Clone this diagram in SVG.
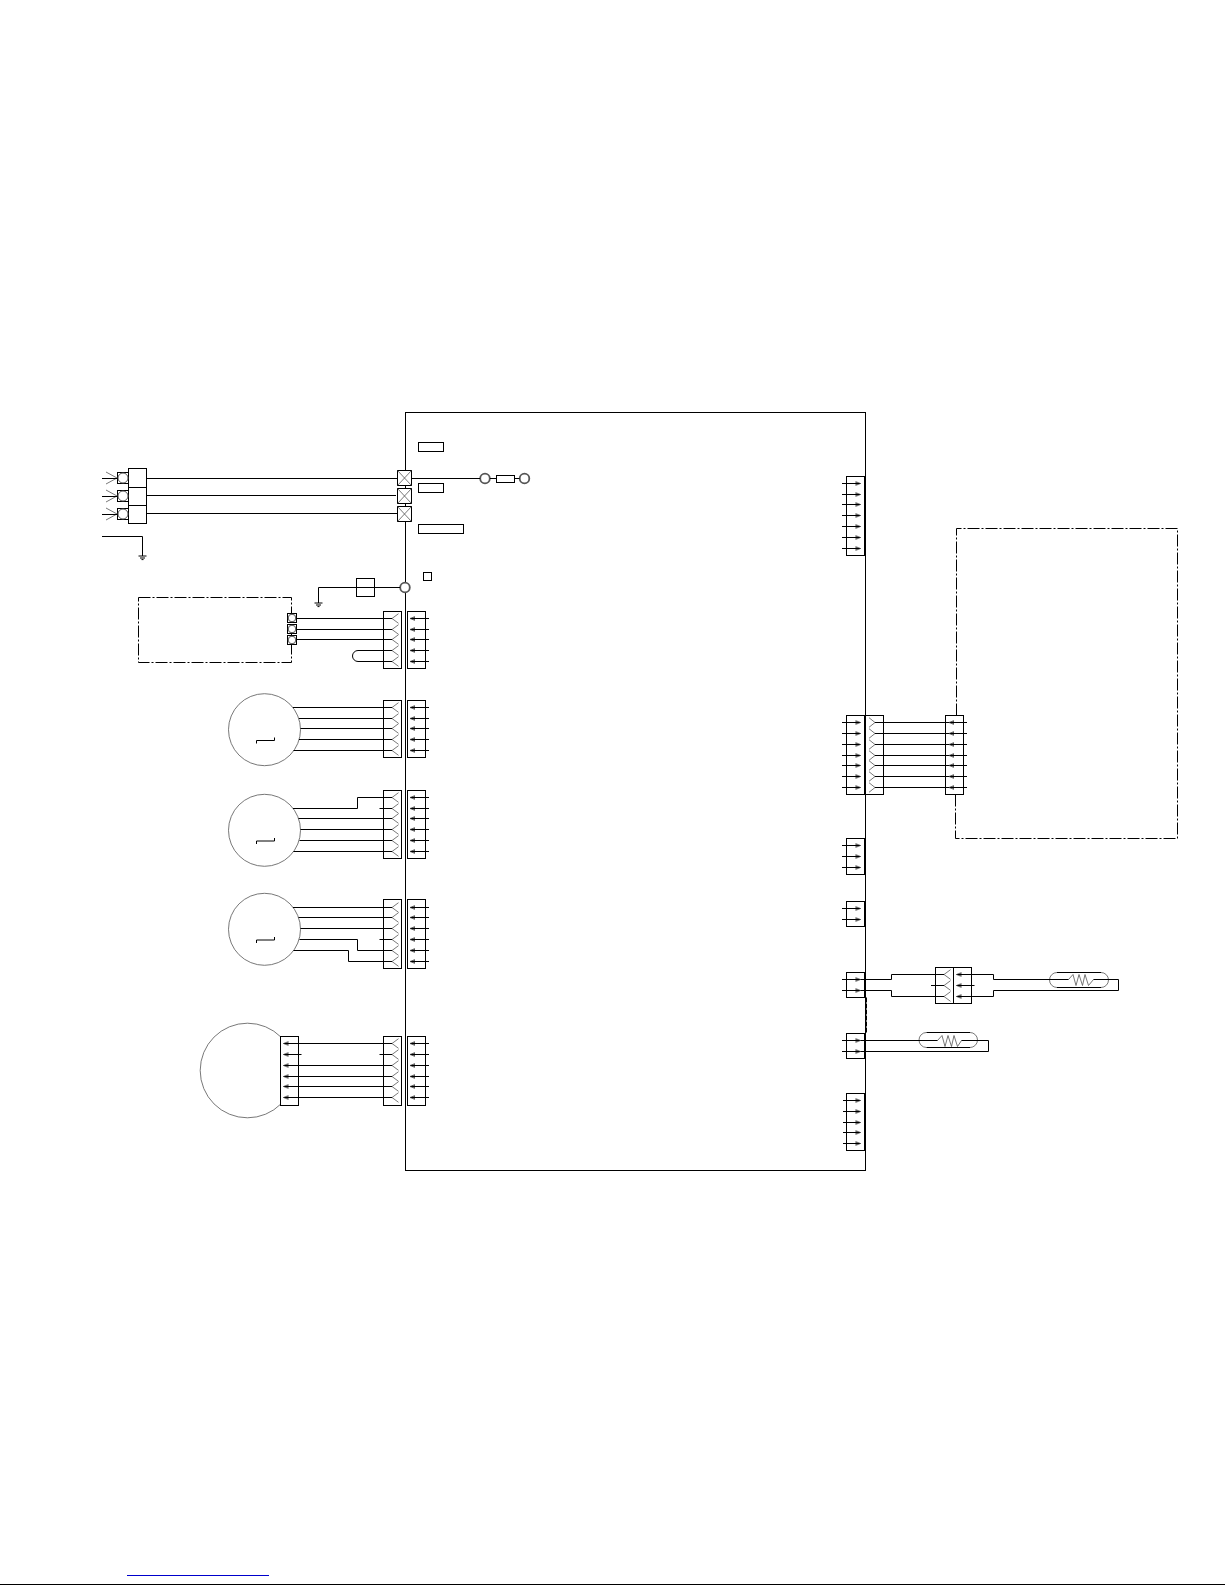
<svg xmlns="http://www.w3.org/2000/svg" xmlns:xlink="http://www.w3.org/1999/xlink" width="1225" height="1585" viewBox="0 0 1225 1585">
<style>
.b{fill:none;stroke:#000;stroke-width:1}
.w{fill:#fff;stroke:#000;stroke-width:1}
.t{fill:none;stroke:#555;stroke-width:.8}
.r{fill:#fff;stroke:#555;stroke-width:1.8}
.c{fill:#fff;stroke:#555;stroke-width:.8}
.s{fill:#fff;stroke:#555;stroke-width:1}
.d{fill:none;stroke:#000;stroke-width:1;stroke-dasharray:12 2 2 2}
</style>
<defs>
<path id="chevL" class="t" d="M6.500,-4.800L0,0L6.500,4.800"/>
<path id="chevR" class="t" d="M-6,-4.800L0,0L-6,4.800"/>
<g id="arrL"><path class="t" d="M5,-2L0,0L5,2"/><path d="M0,0L5,-1.200V1.200Z" fill="#000"/></g>
<g id="arrR"><path class="t" d="M-5,-2L0,0L-5,2"/><path d="M0,0L-5,-1.200V1.200Z" fill="#000"/></g>
<g id="ground"><path class="b" d="M-4,0H4"/><path class="b" d="M-2.500,2H2.500"/><path class="b" d="M-1,3.600H1"/></g>
<path id="step" class="b" d="M0,6V3H18V0"/>
</defs>
<rect width="1225" height="1585" fill="#fff"/>

<g id="board"><rect class="b" x="405.500" y="412.500" width="460" height="758"/>
<rect class="b" x="418.500" y="442.500" width="25" height="9"/>
<rect class="b" x="418.500" y="483.500" width="25" height="9"/>
<rect class="b" x="418.500" y="524.500" width="45" height="9"/>
<rect class="b" x="423.500" y="572.500" width="8" height="8"/>
</g>

<g id="power-terminal">
<rect class="w" x="128.500" y="468.500" width="18" height="19"/>
<rect class="w" x="128.500" y="487.500" width="18" height="18"/>
<rect class="w" x="128.500" y="505.500" width="18" height="18"/>
<rect class="w" x="117.500" y="472.500" width="11" height="11"/>
<rect class="w" x="117.500" y="490.500" width="11" height="11"/>
<rect class="w" x="117.500" y="508.500" width="11" height="11"/>
<circle class="s" cx="123" cy="478" r="5"/><circle class="s" cx="123" cy="496" r="5"/><circle class="s" cx="123" cy="514" r="5"/>
<path class="t" d="M106,472L117,478L106,484M106,490L117,496L106,502M106,508L117,514L106,520"/>
</g>
<g id="ground-1"><use href="#ground" x="142.500" y="556"/></g>
<g id="ground-2"><use href="#ground" x="318.500" y="603"/><rect class="w" x="356.500" y="578.500" width="18" height="18"/></g>

<g id="x-terminals">
<g id="x1"><rect class="w" x="397.500" y="470.500" width="14" height="15"/><path class="t" d="M397.500,470.500L411.500,485.500M411.500,470.500L397.500,485.500"/></g>
<g id="x2"><rect class="w" x="397.500" y="488.500" width="14" height="15"/><path class="t" d="M397.500,488.500L411.500,503.500M411.500,488.500L397.500,503.500"/></g>
<g id="x3"><rect class="w" x="397.500" y="506.500" width="14" height="15"/><path class="t" d="M397.500,506.500L411.500,521.500M411.500,506.500L397.500,521.500"/></g>
</g>
<g id="fuse"><circle class="r" cx="485" cy="478.500" r="4.800"/><rect class="w" x="496.500" y="475.500" width="18" height="7"/><circle class="r" cx="524.500" cy="478.500" r="4.800"/></g>
<g id="ring-terminal"><circle class="r" cx="405" cy="587.500" r="4.800"/></g>

<g id="unit-box"><rect class="d" x="138.500" y="597.500" width="153" height="65"/>
<rect class="w" x="287.500" y="613.500" width="9" height="9"/><rect class="w" x="287.500" y="624.500" width="9" height="9"/><rect class="w" x="287.500" y="635.500" width="9" height="9"/>
<circle class="s" cx="292" cy="618" r="3.800"/><circle class="s" cx="292" cy="629" r="3.800"/><circle class="s" cx="292" cy="640" r="3.800"/>
</g>

<g id="conn-a"><rect class="w" x="383.500" y="611.500" width="18" height="57"/><rect class="w" x="407.500" y="611.500" width="18" height="57"/>
<use href="#chevL" x="392" y="618.500"/><use href="#chevL" x="392" y="629.500"/><use href="#chevL" x="392" y="639.500"/><use href="#chevL" x="392" y="650.500"/><use href="#chevL" x="392" y="661.500"/></g>

<g id="motor-1"><circle class="c" cx="264.500" cy="729.700" r="36"/><use href="#step" x="256.500" y="737.500"/>
<rect class="w" x="383.500" y="700.500" width="18" height="57"/><rect class="w" x="407.500" y="700.500" width="18" height="57"/>
<use href="#chevL" x="392" y="707.500"/><use href="#chevL" x="392" y="718.500"/><use href="#chevL" x="392" y="728.500"/><use href="#chevL" x="392" y="739.500"/><use href="#chevL" x="392" y="750.500"/></g>

<g id="motor-2"><circle class="c" cx="264.500" cy="830.300" r="36"/><use href="#step" x="256.500" y="838"/>
<rect class="w" x="383.500" y="790.500" width="18" height="68"/><rect class="w" x="407.500" y="790.500" width="18" height="68"/>
<use href="#chevL" x="392" y="797.500"/><use href="#chevL" x="392" y="808.500"/><use href="#chevL" x="392" y="818.500"/><use href="#chevL" x="392" y="829.500"/><use href="#chevL" x="392" y="840.500"/><use href="#chevL" x="392" y="851.500"/></g>

<g id="motor-3"><circle class="c" cx="264.500" cy="929.300" r="36"/><use href="#step" x="256.500" y="937"/>
<rect class="w" x="383.500" y="899.500" width="18" height="69"/><rect class="w" x="407.500" y="899.500" width="18" height="69"/>
<use href="#chevL" x="392" y="907.500"/><use href="#chevL" x="392" y="917.500"/><use href="#chevL" x="392" y="928.500"/><use href="#chevL" x="392" y="939.500"/><use href="#chevL" x="392" y="950.500"/><use href="#chevL" x="392" y="961.500"/></g>

<g id="compressor"><circle class="c" cx="247.500" cy="1070.500" r="47.300"/>
<rect class="w" x="280.500" y="1036.500" width="18" height="69"/>
<rect class="w" x="383.500" y="1036.500" width="18" height="69"/><rect class="w" x="407.500" y="1036.500" width="18" height="69"/>
<use href="#chevL" x="392" y="1043.500"/><use href="#chevL" x="392" y="1054.500"/><use href="#chevL" x="392" y="1065.500"/><use href="#chevL" x="392" y="1076.500"/><use href="#chevL" x="392" y="1086.500"/><use href="#chevL" x="392" y="1097.500"/></g>

<g id="outdoor-box"><path class="d" d="M956.500,715.500V528.500H1177.500V838.500H955.500V794.500"/></g>

<g id="right-connectors">
<rect class="w" x="846.500" y="476.500" width="18" height="79"/>
<rect class="w" x="846.500" y="715.500" width="18" height="79"/>
<rect class="w" x="865.500" y="715.500" width="18" height="79"/>
<rect class="w" x="945.500" y="715.500" width="18" height="79"/>
<rect class="w" x="846.500" y="838.500" width="18" height="36"/>
<rect class="w" x="846.500" y="901.500" width="18" height="25"/>
<rect class="w" x="846.500" y="972.500" width="18" height="25"/>
<rect class="w" x="846.500" y="1033.500" width="18" height="25"/>
<rect class="w" x="846.500" y="1093.500" width="18" height="57"/>
<path d="M866,997.500V1032.500" fill="none" stroke="#000" stroke-width="2" stroke-dasharray="5 1"/>
<use href="#chevR" x="875" y="722.500"/><use href="#chevR" x="875" y="733.500"/><use href="#chevR" x="875" y="744.500"/><use href="#chevR" x="875" y="755.500"/><use href="#chevR" x="875" y="765.500"/><use href="#chevR" x="875" y="776.500"/><use href="#chevR" x="875" y="787.500"/>
</g>

<g id="inline-connector"><rect class="w" x="935.500" y="967.500" width="18" height="36"/><rect class="w" x="953.500" y="967.500" width="18" height="36"/>
<use href="#chevL" x="944" y="974.500"/><use href="#chevL" x="944" y="985.500"/><use href="#chevL" x="944" y="996.500"/></g>

<g id="sensor-1"><path class="t" d="M1057,972.500A7.500,7.500 0 0 0 1057,987.500M1101,972.500A7.500,7.500 0 0 1 1101,987.500"/><path class="b" d="M1057,972.500H1101M1057,987.500H1101"/>
<path class="t" d="M1068.500,979.500L1073,974.500L1076,985.500L1079,974.500L1082.500,985.500L1085,974.500L1088.500,985.500L1093.500,979.500"/></g>
<g id="sensor-2"><path class="t" d="M926.500,1032.500A7.500,7.500 0 0 0 926.500,1047.500M970,1032.500A7.500,7.500 0 0 1 970,1047.500"/><path class="b" d="M926.500,1032.500H970M926.500,1047.500H970"/>
<path class="t" d="M937.500,1040.500L942,1035.500L945,1046.500L948,1035.500L951.500,1046.500L954,1035.500L957.500,1046.500L961.500,1040.500"/></g>

<g id="connectors" class="b">
<path d="M146.500,478.500H397.500M146.500,495.500H396M146.500,513.500H397.500"/>
<path d="M102,478.500H117.500M102,496.500H117.500M102,514.500H117.500"/>
<path d="M102,536.500H142.500V556"/>
<path d="M411.500,478.500H480M490,478.500H496.500M514.500,478.500H519.500"/>
<path d="M400,587.500H318.500V603"/>
<path d="M296.500,618.500H392M296.500,629.500H392M296.500,639.500H392"/>
<path d="M392,650.500H358A5.500,5.500 0 0 0 358,661.500H392"/>
<path d="M293,707.500H392M299,718.500H392M300.500,728.500H392M299,739.500H392M293.500,750.500H392"/>
<path d="M293,808.500H357.500V797.500H392M379.500,808.500H392M298.500,818.500H392M300.500,829.500H392M299.500,840.500H392M293.500,851.500H392"/>
<path d="M293,907.500H392M298.500,917.500H392M300.500,928.500H392M299.500,939.500H357.500V950.500H392M379.500,939.500H392M293.500,950.500H348.500V961.500H392"/>
<path d="M283.500,1043.500H392M283.500,1054.500H301.500M379.500,1054.500H392M283.500,1065.500H392M283.500,1076.500H392M283.500,1086.500H392M283.500,1097.500H392"/>
<path d="M410,618.500H429M410,629.500H429M410,639.500H429M410,650.500H429M410,661.500H429"/>
<path d="M410,707.500H429M410,718.500H429M410,728.500H429M410,739.500H429M410,750.500H429"/>
<path d="M410,797.500H429M410,808.500H429M410,818.500H429M410,829.500H429M410,840.500H429M410,851.500H429"/>
<path d="M410,907.500H429M410,917.500H429M410,928.500H429M410,939.500H429M410,950.500H429M410,961.500H429"/>
<path d="M410,1043.500H429M410,1054.500H429M410,1065.500H429M410,1076.500H429M410,1086.500H429M410,1097.500H429"/>
<path d="M842,483.500H860.500M842,494.500H860.500M842,504.500H860.500M842,515.500H860.500M842,526.500H860.500M842,537.500H860.500M842,548.500H860.500"/>
<path d="M842,722.500H860.500M842,733.500H860.500M842,744.500H860.500M842,755.500H860.500M842,765.500H860.500M842,776.500H860.500M842,787.500H860.500"/>
<path d="M875,722.500H967M875,733.500H967M875,744.500H967M875,755.500H967M875,765.500H967M875,776.500H967M875,787.500H967"/>
<path d="M842,845.500H860.500M842,856.500H860.500M842,867.500H860.500M842,908.500H860.500M842,919.500H860.500"/>
<path d="M843,1100.500H860.500M843,1111.500H860.500M843,1122.500H860.500M843,1132.500H860.500M843,1143.500H860.500"/>
<path d="M842,979.500H891.500V974.500H944M842,990.500H891.500V996.500H944M931,985.500H944"/>
<path d="M956.500,974.500H993.500V979.500H1068.500M956.500,985.500H974.500M956.500,996.500H993.500V990.500H1118.500V979.500H1093.500"/>
<path d="M842,1040.500H937.500M961.500,1040.500H988.500V1051.500H842"/>
</g>
<g id="arrowheads">
<use href="#arrL" x="410" y="618.500"/><use href="#arrL" x="410" y="629.500"/><use href="#arrL" x="410" y="639.500"/><use href="#arrL" x="410" y="650.500"/><use href="#arrL" x="410" y="661.500"/>
<use href="#arrL" x="410" y="707.500"/><use href="#arrL" x="410" y="718.500"/><use href="#arrL" x="410" y="728.500"/><use href="#arrL" x="410" y="739.500"/><use href="#arrL" x="410" y="750.500"/>
<use href="#arrL" x="410" y="797.500"/><use href="#arrL" x="410" y="808.500"/><use href="#arrL" x="410" y="818.500"/><use href="#arrL" x="410" y="829.500"/><use href="#arrL" x="410" y="840.500"/><use href="#arrL" x="410" y="851.500"/>
<use href="#arrL" x="410" y="907.500"/><use href="#arrL" x="410" y="917.500"/><use href="#arrL" x="410" y="928.500"/><use href="#arrL" x="410" y="939.500"/><use href="#arrL" x="410" y="950.500"/><use href="#arrL" x="410" y="961.500"/>
<use href="#arrL" x="410" y="1043.500"/><use href="#arrL" x="410" y="1054.500"/><use href="#arrL" x="410" y="1065.500"/><use href="#arrL" x="410" y="1076.500"/><use href="#arrL" x="410" y="1086.500"/><use href="#arrL" x="410" y="1097.500"/>
<use href="#arrL" x="283.500" y="1043.500"/><use href="#arrL" x="283.500" y="1054.500"/><use href="#arrL" x="283.500" y="1065.500"/><use href="#arrL" x="283.500" y="1076.500"/><use href="#arrL" x="283.500" y="1086.500"/><use href="#arrL" x="283.500" y="1097.500"/>
<use href="#arrL" x="949" y="722.500"/><use href="#arrL" x="949" y="733.500"/><use href="#arrL" x="949" y="744.500"/><use href="#arrL" x="949" y="755.500"/><use href="#arrL" x="949" y="765.500"/><use href="#arrL" x="949" y="776.500"/><use href="#arrL" x="949" y="787.500"/>
<use href="#arrL" x="956.500" y="974.500"/><use href="#arrL" x="956.500" y="985.500"/><use href="#arrL" x="956.500" y="996.500"/>
<use href="#arrR" x="860.500" y="483.500"/><use href="#arrR" x="860.500" y="494.500"/><use href="#arrR" x="860.500" y="504.500"/><use href="#arrR" x="860.500" y="515.500"/><use href="#arrR" x="860.500" y="526.500"/><use href="#arrR" x="860.500" y="537.500"/><use href="#arrR" x="860.500" y="548.500"/>
<use href="#arrR" x="860.500" y="722.500"/><use href="#arrR" x="860.500" y="733.500"/><use href="#arrR" x="860.500" y="744.500"/><use href="#arrR" x="860.500" y="755.500"/><use href="#arrR" x="860.500" y="765.500"/><use href="#arrR" x="860.500" y="776.500"/><use href="#arrR" x="860.500" y="787.500"/>
<use href="#arrR" x="860.500" y="845.500"/><use href="#arrR" x="860.500" y="856.500"/><use href="#arrR" x="860.500" y="867.500"/>
<use href="#arrR" x="860.500" y="908.500"/><use href="#arrR" x="860.500" y="919.500"/>
<use href="#arrR" x="860.500" y="979.500"/><use href="#arrR" x="860.500" y="990.500"/>
<use href="#arrR" x="860.500" y="1040.500"/><use href="#arrR" x="860.500" y="1051.500"/>
<use href="#arrR" x="860.500" y="1100.500"/><use href="#arrR" x="860.500" y="1111.500"/><use href="#arrR" x="860.500" y="1122.500"/><use href="#arrR" x="860.500" y="1132.500"/><use href="#arrR" x="860.500" y="1143.500"/>
</g>
<g id="page-marks"><rect x="127" y="1575" width="142" height="1" fill="#0000cc"/><rect x="0" y="1584" width="1225" height="1" fill="#000"/></g>
</svg>
